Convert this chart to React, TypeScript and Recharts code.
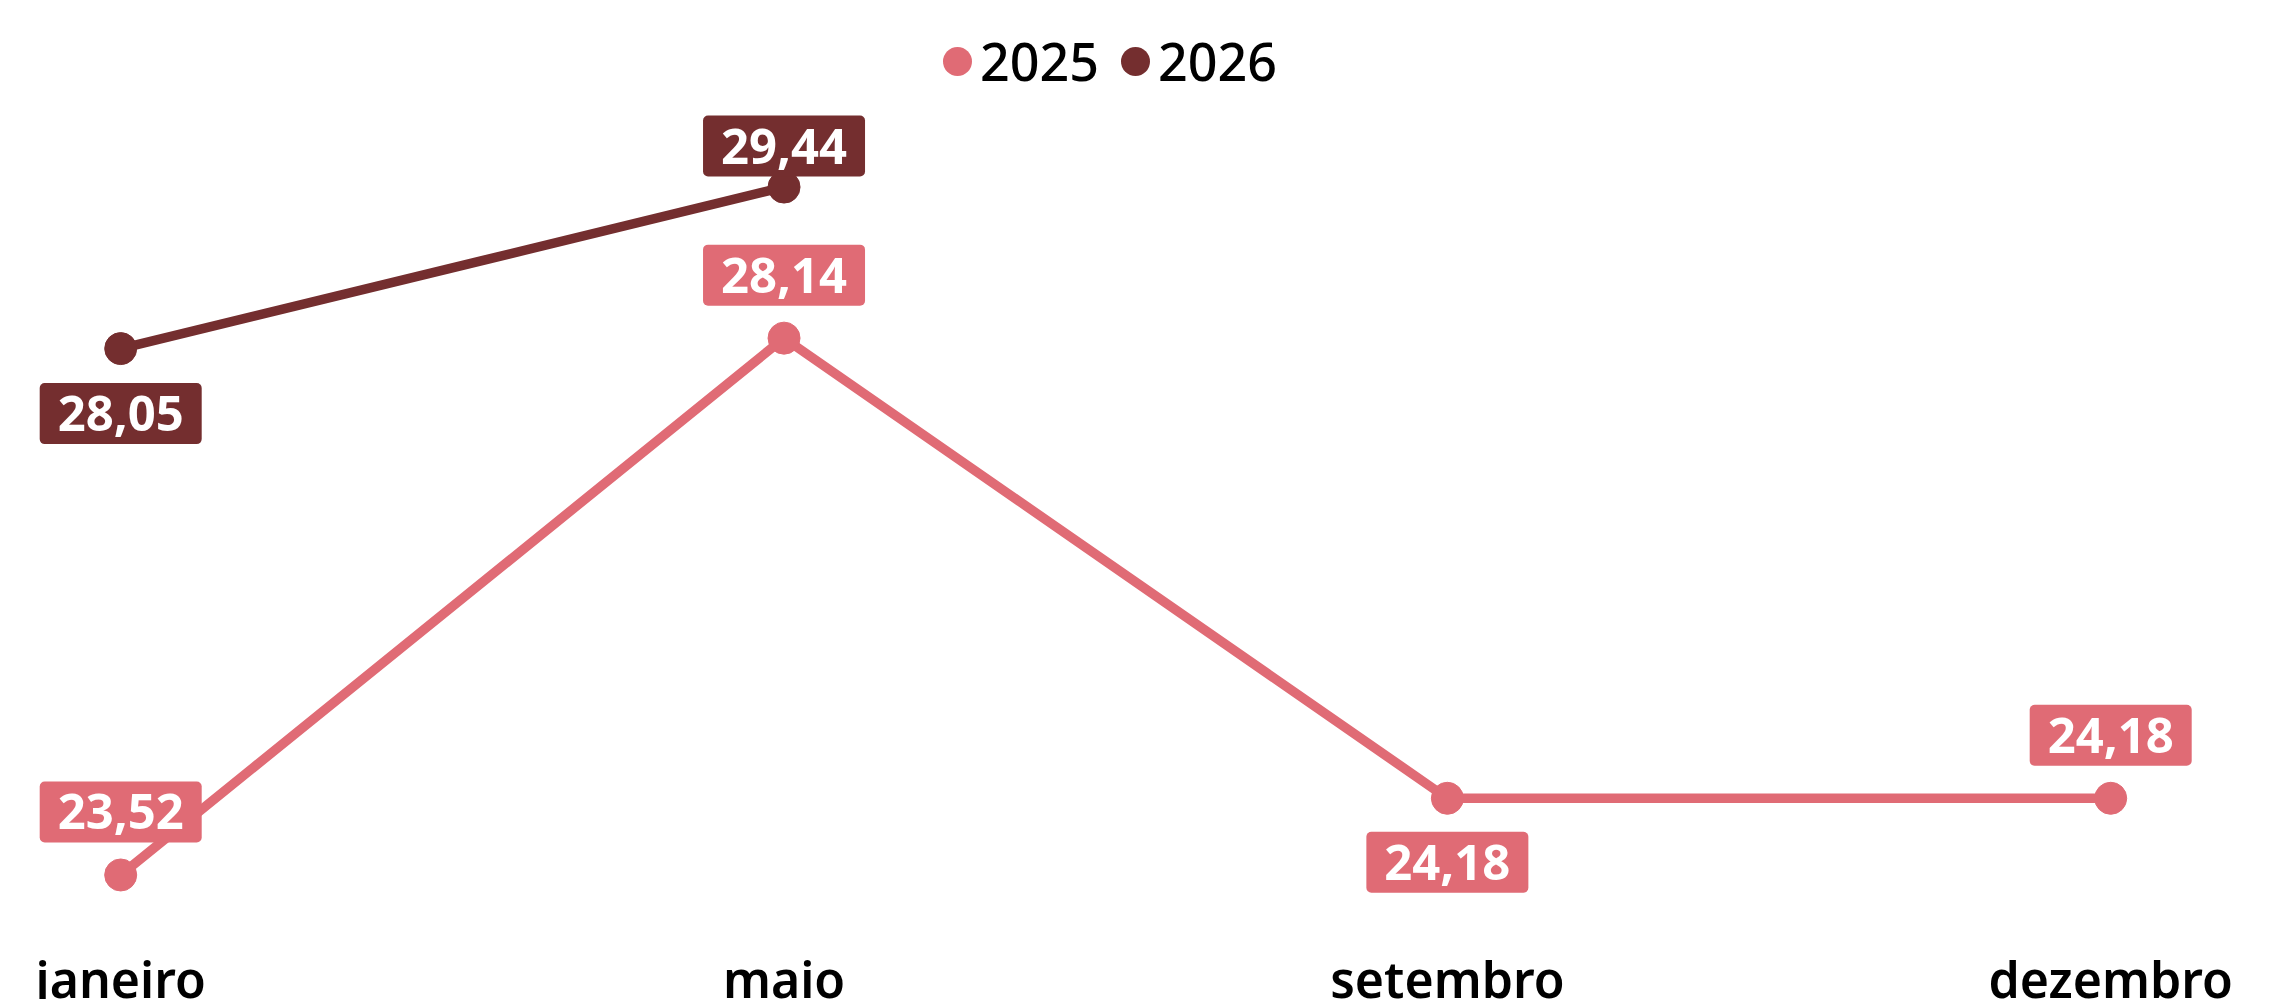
import React from 'react';
import { LineChart, Line, XAxis, YAxis, Legend, LabelList } from 'recharts';

const categories = ['janeiro', 'maio', 'setembro', 'dezembro'];
const values2025 = [23.52, 28.14, 24.18, 24.18];
const values2026: (number | null)[] = [28.05, 29.44, null, null];
const seriesNames = ['2025', '2026'];

const COLOR_2025 = '#E06B75';
const COLOR_2026 = '#742E2F';
const FONT = "'Noto Sans', 'Open Sans', sans-serif";

const data = categories.map((c, i) => ({
  month: c,
  y2025: values2025[i],
  y2026: values2026[i],
}));

// label box placement per point (offset of box centre from point, px)
const LABEL_OFFSET_2025 = [-63, -63, 64, -63];
const LABEL_OFFSET_2026 = [65, -41, 0, 0];

const fmt = (v: number) => v.toFixed(2).replace('.', ',');

const makeLabel = (color: string, offsets: number[]) => (props: any) => {
  const { value, index } = props;
  if (value == null) return null;
  const x = props.x ?? props.viewBox?.x;
  const y = props.y ?? props.viewBox?.y;
  if (typeof x !== 'number' || typeof y !== 'number') return null;
  const w = 162;
  const h = 61;
  const cy = y + offsets[index];
  return (
    <g>
      <rect x={x - w / 2} y={cy - h / 2} width={w} height={h} rx={5} ry={5} fill={color} />
      <text
        x={x}
        y={cy + 17.5}
        textAnchor="middle"
        fill="#FFFFFF"
        fontFamily={FONT}
        fontWeight={700}
        fontSize={49}
      >
        {fmt(Number(value))}
      </text>
    </g>
  );
};

const LegendContent = () => (
  <div style={{ display: 'flex', alignItems: 'center', fontFamily: FONT, fontSize: 52, fontWeight: 500, lineHeight: '60px', color: '#000' }}>
    {seriesNames.map((n, i) => (
      <div key={n} style={{ display: 'flex', alignItems: 'center', marginRight: 22 }}>
        <span
          style={{
            display: 'inline-block',
            width: 29,
            height: 29,
            borderRadius: '50%',
            background: i === 0 ? COLOR_2025 : COLOR_2026,
            marginRight: 8,
          }}
        />
        <span>{n}</span>
      </div>
    ))}
  </div>
);

export default function App() {
  return (
    <div style={{ position: 'fixed', left: 0, top: 0, width: 2296, height: 999, overflow: 'hidden', background: '#fff' }}>
      <LineChart
        width={2296}
        height={1040}
        data={data}
        margin={{ top: 122, right: 185.3, bottom: 44.6, left: 120.7 }}
      >
        <XAxis
          dataKey="month"
          scale="point"
          padding={{ left: 0, right: 0 }}
          axisLine={false}
          tickLine={false}
          height={60}
          tickMargin={21}
          interval={0}
          tick={{ fontFamily: FONT, fontSize: 50, fontWeight: 600, fill: '#000' }}
        />
        <YAxis hide type="number" domain={[23, 30]} />
        <Legend
          verticalAlign="middle"
          align="center"
          layout="horizontal"
          content={<LegendContent />}
          wrapperStyle={{ top: 31, left: 943, width: 500, height: 60 }}
        />
        <Line
          dataKey="y2025"
          name="2025"
          stroke={COLOR_2025}
          strokeWidth={9.5}
          dot={{ r: 16, fill: COLOR_2025, stroke: COLOR_2025, strokeWidth: 1 }}
          activeDot={false}
          isAnimationActive={false}
        >
          <LabelList dataKey="y2025" content={makeLabel(COLOR_2025, LABEL_OFFSET_2025)} />
        </Line>
        <Line
          dataKey="y2026"
          name="2026"
          stroke={COLOR_2026}
          strokeWidth={9.5}
          dot={{ r: 16, fill: COLOR_2026, stroke: COLOR_2026, strokeWidth: 1 }}
          activeDot={false}
          isAnimationActive={false}
        >
          <LabelList dataKey="y2026" content={makeLabel(COLOR_2026, LABEL_OFFSET_2026)} />
        </Line>
      </LineChart>
    </div>
  );
}
